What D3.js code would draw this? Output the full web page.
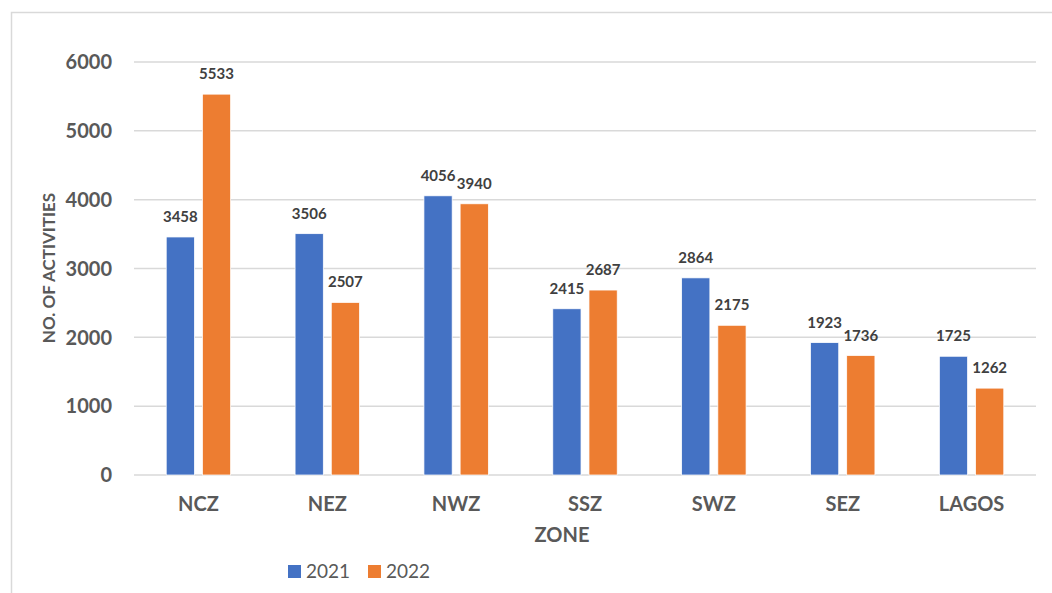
<!DOCTYPE html>
<html>
<head>
<meta charset="utf-8">
<script src="https://cdn.jsdelivr.net/npm/d3@7"></script>
<style>
  html, body { margin: 0; padding: 0; background: #fff; }
  svg { display: block; font-family: Lato, "Open Sans", sans-serif; }
</style>
</head>
<body>
<svg id="chart" width="1052" height="593"></svg>
<script>
const zones = ["NCZ", "NEZ", "NWZ", "SSZ", "SWZ", "SEZ", "LAGOS"];
const years = ["2021", "2022"];
const values2021 = [3458, 3506, 4056, 2415, 2864, 1923, 1725];
const values2022 = [5533, 2507, 3940, 2687, 2175, 1736, 1262];
const yTicks = [0, 1000, 2000, 3000, 4000, 5000, 6000];
const colors = { "2021": "#4472C4", "2022": "#ED7D31" };

const rows = zones.map((z, i) => ({ zone: z, "2021": values2021[i], "2022": values2022[i] }));

const svg = d3.select("#chart");
const m = { top: 62, right: 16, bottom: 118, left: 134 };
const W = 1052, H = 593;

// chart frame (runs off the right and bottom edge)
svg.append("rect")
  .attr("x", 11.5).attr("y", 12.5)
  .attr("width", W).attr("height", H)
  .attr("fill", "none")
  .attr("stroke", "#D9D9D9")
  .attr("stroke-width", 1.5);

const x0 = d3.scaleBand()
  .domain(zones)
  .range([m.left, W - m.right])
  .paddingInner(0.5)
  .paddingOuter(0.25);

const x1 = d3.scaleBand()
  .domain(years)
  .range([0, x0.bandwidth()])
  .paddingInner(0.22);

const y = d3.scaleLinear()
  .domain([0, 6000])
  .range([H - m.bottom, m.top]);

// gridlines
svg.append("g")
  .selectAll("line")
  .data(yTicks)
  .join("line")
  .attr("x1", m.left).attr("x2", W - m.right)
  .attr("y1", d => y(d)).attr("y2", d => y(d))
  .attr("stroke", "#D9D9D9")
  .attr("stroke-width", 1.5);

// y tick labels
svg.append("g")
  .selectAll("text")
  .data(yTicks)
  .join("text")
  .attr("x", 112)
  .attr("y", d => y(d))
  .attr("dy", "0.36em")
  .attr("text-anchor", "end")
  .attr("font-size", 20)
  .attr("font-weight", "bold")
  .attr("fill", "#595959")
  .text(d => d);

// bars
const groups = svg.append("g")
  .selectAll("g")
  .data(rows)
  .join("g")
  .attr("transform", d => `translate(${x0(d.zone)},0)`);

groups.selectAll("rect")
  .data(d => years.map(k => ({ key: k, value: d[k] })))
  .join("rect")
  .attr("x", d => x1(d.key))
  .attr("y", d => y(d.value))
  .attr("width", x1.bandwidth())
  .attr("height", d => y(0) - y(d.value))
  .attr("fill", d => colors[d.key])
  .attr("stroke", "#fff")
  .attr("stroke-width", 0.75);

// data labels
groups.selectAll("text")
  .data(d => years.map(k => ({ key: k, value: d[k] })))
  .join("text")
  .attr("x", d => x1(d.key) + x1.bandwidth() / 2)
  .attr("y", d => y(d.value) - 15)
  .attr("text-anchor", "middle")
  .attr("font-size", 15)
  .attr("font-weight", "bold")
  .attr("fill", "#404040")
  .text(d => d.value);

// category labels
svg.append("g")
  .selectAll("text")
  .data(zones)
  .join("text")
  .attr("x", d => x0(d) + x0.bandwidth() / 2)
  .attr("y", 511)
  .attr("text-anchor", "middle")
  .attr("font-size", 20)
  .attr("font-weight", "bold")
  .attr("fill", "#595959")
  .text(d => d);

// axis titles
svg.append("text")
  .attr("x", 562)
  .attr("y", 542)
  .attr("text-anchor", "middle")
  .attr("font-size", 20)
  .attr("font-weight", "bold")
  .attr("fill", "#595959")
  .text("ZONE");

svg.append("text")
  .attr("transform", `translate(55,268) rotate(-90)`)
  .attr("text-anchor", "middle")
  .attr("font-size", 17)
  .attr("font-weight", "bold")
  .attr("fill", "#595959")
  .text("NO. OF ACTIVITIES");

// legend
const legendX = [288, 368];
const legend = svg.append("g")
  .selectAll("g")
  .data(years)
  .join("g")
  .attr("transform", (d, i) => `translate(${legendX[i]},565)`);

legend.append("rect")
  .attr("width", 13).attr("height", 13)
  .attr("fill", d => colors[d]);

legend.append("text")
  .attr("x", 18)
  .attr("y", 13)
  .attr("font-size", 19)
  .attr("fill", "#595959")
  .text(d => d);
</script>
</body>
</html>
